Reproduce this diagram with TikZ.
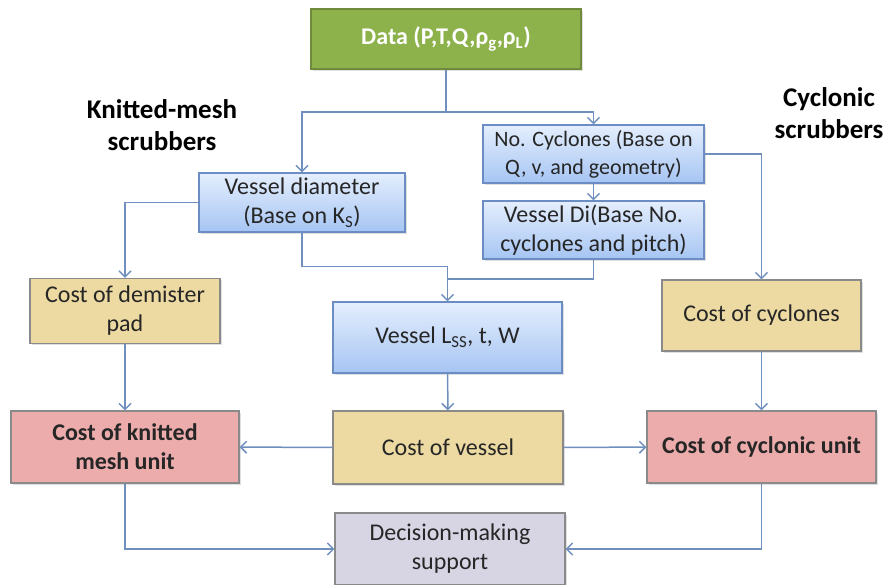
\documentclass[tikz,border=0pt]{standalone}
\usepackage{fontspec}
\setmainfont{Carlito}
\usetikzlibrary{arrows.meta,shadows}

\definecolor{datagreen}{HTML}{8DB24C}
\definecolor{databorder}{HTML}{6E8A3A}
\definecolor{bluetop}{HTML}{E4EEFD}
\definecolor{bluebot}{HTML}{A6C5F3}
\definecolor{blueborder}{HTML}{6C8CC4}
\definecolor{tanfill}{HTML}{ECDAA2}
\definecolor{pinkfill}{HTML}{EDACAC}
\definecolor{greyfill}{HTML}{D7D5E4}
\definecolor{boxborder}{HTML}{8A8A8A}
\definecolor{linkblue}{HTML}{6F8FBF}

\tikzset{
  box/.style={draw=boxborder, line width=1.2pt, align=center, inner sep=2pt,
    font=\fontsize{24}{29}\selectfont, text=black!85,
    drop shadow={shadow xshift=1.5pt,shadow yshift=-1.5pt,opacity=.25}},
  inputbox/.style={box, fill=datagreen, draw=databorder, text=white,
    font=\fontsize{24}{29}\selectfont\bfseries},
  calcbox/.style={box, top color=bluetop, bottom color=bluebot, draw=blueborder},
  costbox/.style={box, fill=tanfill},
  unitbox/.style={box, fill=pinkfill, font=\fontsize{24}{29}\selectfont\bfseries},
  decisionbox/.style={box, fill=greyfill},
  heading/.style={align=center, font=\fontsize{27}{32}\selectfont\bfseries},
  linkline/.style={draw=linkblue, line width=1.5pt},
  link/.style={linkline, -{Straight Barb[length=6pt,width=12pt]}}
}

\begin{document}
\begin{tikzpicture}[x=1pt,y=-1pt]
  \useasboundingbox (0,0) rectangle (889,584);

  % input
  \node[inputbox, minimum width=270pt, minimum height=60pt] (data) at (446,39) {Data (P,T,Q,ρ\textsubscript{g},ρ\textsubscript{L})};

  % headings
  \node[heading] (knithead) at (162,125) {Knitted-mesh\\scrubbers};
  \node[heading] (cychead) at (829,113) {Cyclonic\\scrubbers};

  % sizing
  \node[calcbox, minimum width=206pt, minimum height=59pt] (diam) at (302,202.5) {Vessel diameter\\(Base on K\textsubscript{S})};
  \node[calcbox, minimum width=221pt, minimum height=58pt, font=\fontsize{22}{28}\selectfont] (ncyc) at (593.5,154) {No. Cyclones (Base on\\Q, v, and geometry)};
  \node[calcbox, minimum width=221pt, minimum height=58pt] (di) at (593.5,230) {Vessel Di(Base No.\\cyclones and pitch)};
  \node[calcbox, minimum width=229pt, minimum height=71pt] (lss) at (447.5,337.5) {Vessel L\textsubscript{SS}, t, W};

  % costs
  \node[costbox, minimum width=190pt, minimum height=65pt] (pad) at (125,311) {Cost of demister\\pad};
  \node[costbox, minimum width=199pt, minimum height=71pt] (cyc) at (761.5,315.5) {Cost of cyclones};
  \node[costbox, minimum width=230pt, minimum height=73pt] (vessel) at (448,447.5) {Cost of vessel};
  \node[unitbox, minimum width=228pt, minimum height=72pt] (knit) at (125,447) {Cost of knitted\\mesh unit};
  \node[unitbox, minimum width=229pt, minimum height=72pt] (cycunit) at (761.5,447) {Cost of cyclonic unit};
  \node[decisionbox, minimum width=230pt, minimum height=72pt] (decide) at (450,549) {Decision-making\\support};

  \coordinate (split) at (446,112);
  \coordinate (merge) at (447.5,279);

  % connectors
  \draw[linkline] (data) -- (split);
  \draw[link] (split) -| (diam.north);
  \draw[link] (split) -| (ncyc.north);
  \draw[link] (ncyc) -- (di);
  \draw[link] (diam.west) -| (pad.north);
  \draw[link] (ncyc.east) -| (cyc.north);
  \draw[link] (diam.south) -- ++(0,34) -| (lss.north);
  \draw[linkline] (di.south) |- (merge);
  \draw[link] (pad) -- (knit);
  \draw[link] (lss) -- (vessel);
  \draw[link] (cyc) -- (cycunit);
  \draw[link] (vessel) -- (knit);
  \draw[link] (vessel) -- (cycunit);
  \draw[link] (knit.south) |- (decide.west);
  \draw[link] (cycunit.south) |- (decide.east);
\end{tikzpicture}
\end{document}
